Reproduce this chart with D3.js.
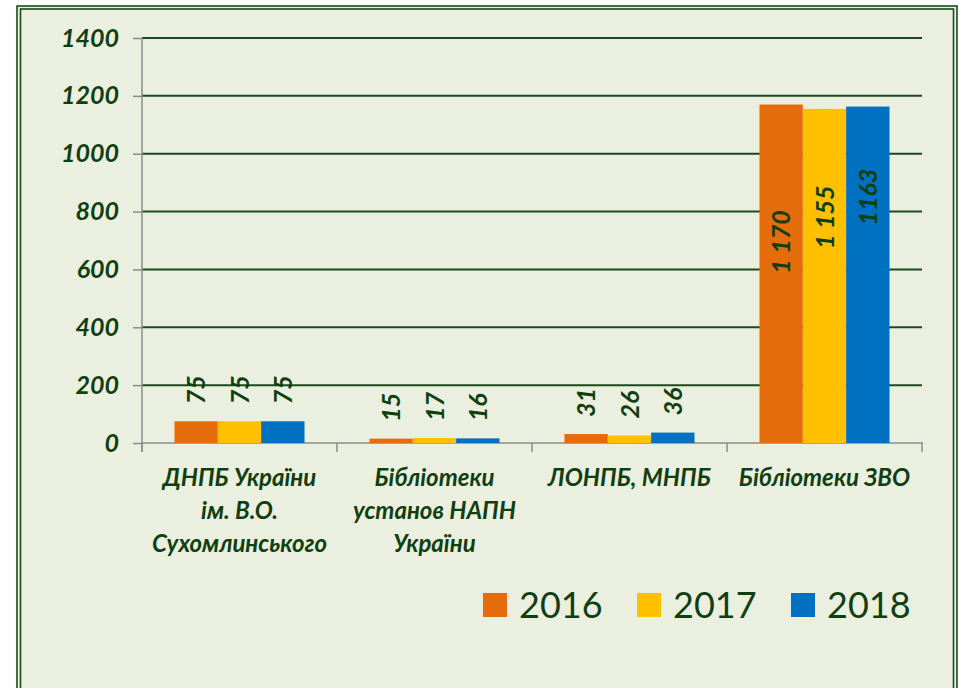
<!DOCTYPE html>
<html>
<head>
<meta charset="utf-8">
<script src="https://cdn.jsdelivr.net/npm/d3@7"></script>
<style>
  html,body{margin:0;padding:0;background:#fff;}
  svg{display:block;}
</style>
</head>
<body>
<svg id="chart" width="959" height="688"></svg>
<script>
// дані
const categories = [
  ['ДНПБ України', 'ім. В.О.', 'Сухомлинського'],
  ['Бібліотеки', 'установ НАПН', 'України'],
  ['ЛОНПБ, МНПБ'],
  ['Бібліотеки ЗВО']
]
const years = ['2016', '2017', '2018']
const values2016 = [75, 15, 31, 1170]
const values2017 = [75, 17, 26, 1155]
const values2018 = [75, 16, 36, 1163]
const labels2016 = ['75', '15', '31', '1 170']
const labels2017 = ['75', '17', '26', '1 155']
const labels2018 = ['75', '16', '36', '1163']
const yTicks = [0, 200, 400, 600, 800, 1000, 1200, 1400]

const colors = ['#E46C0A', '#FFC000', '#0070C0']
const textColor = '#0F3F0F'
const gridColor = '#1C4A1C'
const axisColor = '#8C8C8C'

const series = [values2016, values2017, values2018]
const seriesLabels = [labels2016, labels2017, labels2018]

const svg = d3.select('#chart')

// фон і рамка
svg.append('rect').attr('x', 17).attr('y', 6).attr('width', 940).attr('height', 700)
  .attr('fill', '#EBEFDF').attr('stroke', '#1C4A1C').attr('stroke-width', 1.6)
svg.append('rect').attr('x', 20.5).attr('y', 9).attr('width', 933).attr('height', 700)
  .attr('fill', 'none').attr('stroke', '#1C4A1C').attr('stroke-width', 1.6)

const plot = {left: 142, right: 922, top: 38, bottom: 443}

const x0 = d3.scaleBand().domain(d3.range(categories.length))
  .range([plot.left, plot.right]).padding(0)
const x1 = d3.scaleBand().domain(d3.range(years.length))
  .range([x0.bandwidth() / 6, x0.bandwidth() * 5 / 6]).padding(0)
const y = d3.scaleLinear().domain([0, 1400]).range([plot.bottom, plot.top])

const font = 'Lato, "Open Sans", sans-serif'

// сітка
svg.append('g').selectAll('line').data(yTicks.filter(d => d > 0)).enter()
  .append('line')
  .attr('x1', plot.left).attr('x2', plot.right)
  .attr('y1', d => y(d)).attr('y2', d => y(d))
  .attr('stroke', gridColor).attr('stroke-width', 2)

// вісь Y
const axisY = svg.append('g').attr('transform', `translate(${plot.left},0)`)
  .call(d3.axisLeft(y).tickValues(yTicks).tickFormat(d3.format('d')).tickSize(9).tickPadding(14))
axisY.select('.domain').attr('stroke', axisColor).attr('stroke-width', 1.5)
  .attr('d', `M0,${plot.top}V${plot.bottom + 9}`)
axisY.selectAll('.tick line').attr('stroke', axisColor).attr('stroke-width', 1.5)
axisY.selectAll('.tick text')
  .attr('fill', textColor).attr('font-family', font)
  .attr('font-size', 25).attr('font-weight', 'bold').attr('font-style', 'italic')

// вісь X
svg.append('line').attr('x1', plot.left).attr('x2', plot.right + 1)
  .attr('y1', plot.bottom).attr('y2', plot.bottom)
  .attr('stroke', axisColor).attr('stroke-width', 1.5)
svg.append('g').selectAll('line').data(d3.range(categories.length + 1)).enter()
  .append('line')
  .attr('x1', d => plot.left + d * x0.bandwidth())
  .attr('x2', d => plot.left + d * x0.bandwidth())
  .attr('y1', plot.bottom).attr('y2', plot.bottom + 9)
  .attr('stroke', axisColor).attr('stroke-width', 1.5)

const catText = svg.append('g').selectAll('text').data(categories).enter()
  .append('text')
  .attr('text-anchor', 'middle')
  .attr('fill', textColor).attr('font-family', font)
  .attr('font-size', 24).attr('font-weight', 'bold').attr('font-style', 'italic')
catText.selectAll('tspan').data((d, i) => d.map(t => ({t, i}))).enter()
  .append('tspan')
  .attr('x', d => x0(d.i) + x0.bandwidth() / 2)
  .attr('y', (d, j) => 486 + j * 33)
  .text(d => d.t)

// стовпці
series.forEach((vals, s) => {
  svg.append('g').selectAll('rect').data(vals).enter()
    .append('rect')
    .attr('x', (d, i) => x0(i) + x1(s))
    .attr('width', x1.bandwidth())
    .attr('y', d => y(d))
    .attr('height', d => y(0) - y(d))
    .attr('fill', colors[s])
})

// підписи значень
const insideAt = [695, 780, 850] // центр підпису всередині великих стовпців
series.forEach((vals, s) => {
  svg.append('g').selectAll('text').data(vals).enter()
    .append('text')
    .attr('transform', (d, i) => {
      const cx = x0(i) + x1(s) + x1.bandwidth() / 2 + 9
      const cy = d > 500 ? y(insideAt[s]) : y(d) - 17
      return `translate(${cx},${cy}) rotate(-90)`
    })
    .attr('text-anchor', d => d > 500 ? 'middle' : 'start')
    .attr('fill', textColor).attr('font-family', font)
    .attr('font-size', 25).attr('font-weight', 'bold').attr('font-style', 'italic')
    .text((d, i) => seriesLabels[s][i])
})

// легенда
const legend = svg.append('g').selectAll('g').data(years).enter()
  .append('g')
  .attr('transform', (d, i) => `translate(${483 + i * 154},593)`)
legend.append('rect').attr('width', 24).attr('height', 24)
  .attr('fill', (d, i) => colors[i])
legend.append('text').attr('x', 36).attr('y', 25)
  .attr('fill', textColor).attr('font-family', font).attr('font-size', 36)
  .text(d => d)
</script>
</body>
</html>
